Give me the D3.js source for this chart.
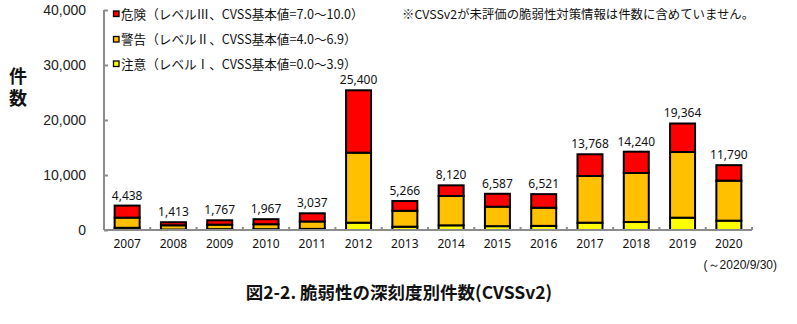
<!DOCTYPE html>
<html><head><meta charset="utf-8">
<script src="https://cdn.jsdelivr.net/npm/d3@7/dist/d3.min.js"></script>
<style>body{margin:0;background:#fff}svg{display:block}</style>
</head><body>
<svg id="c" width="797" height="324"></svg>
<script>
const years = ["2007","2008","2009","2010","2011","2012","2013","2014","2015","2016","2017","2018","2019","2020"];
const low  = [400, 80, 150, 150, 200, 1330, 600, 850, 700, 750, 1330, 1450, 2240, 1700];
const medium = [1850, 780, 820, 900, 1350, 12730, 2900, 5330, 3540, 3300, 8490, 8920, 11940, 7270];
const high = [2188, 553, 797, 917, 1487, 11340, 1766, 1940, 2347, 2471, 3948, 3870, 5184, 2820];
const yTicks = [0, 10000, 20000, 30000, 40000];
const seriesNames = ["low","medium","high"];
const legendLabels = ["危険（レベルⅢ、CVSS基本値=7.0～10.0）","警告（レベルⅡ、CVSS基本値=4.0～6.9）","注意（レベルⅠ、CVSS基本値=0.0～3.9）"];
const legendKeys = ["high","medium","low"];
const colors = {low:"#ffff00", medium:"#ffc000", high:"#ff0000"};

const rows = years.map((y,i)=>({year:y, low:low[i], medium:medium[i], high:high[i]}));
const svg = d3.select("#c");
const x0 = 104, x1 = 752, yTop = 10, yBot = 230;
const x = d3.scaleBand().domain(years).range([x0, x1]).paddingInner(0.46).paddingOuter(0.23);
const y = d3.scaleLinear().domain([0, 40000]).range([yBot, yTop]);
const stack = d3.stack().keys(seriesNames)(rows);

// bars
svg.append("g").selectAll("g").data(stack).join("g")
  .attr("fill", d => colors[d.key])
  .selectAll("rect").data(d => d).join("rect")
  .attr("x", d => x(d.data.year))
  .attr("y", d => y(d[1]))
  .attr("width", x.bandwidth())
  .attr("height", d => y(d[0]) - y(d[1]))
  .attr("stroke", "#000").attr("stroke-width", 2);

// axes
const axisColor = "#8c8c8c";
const yAxis = svg.append("g").attr("transform", `translate(${x0},0)`)
  .call(d3.axisRight(y).tickValues(yTicks).tickSize(4).tickFormat(""));
yAxis.select(".domain").attr("stroke", axisColor).attr("stroke-width", 2).attr("d", `M0,${yTop}V${yBot}`);
yAxis.selectAll(".tick line").attr("stroke", axisColor).attr("stroke-width", 2);

svg.append("g").selectAll("text").data(yTicks).join("text")
  .attr("x", 86).attr("y", d => y(d)).attr("dy", "0.36em")
  .attr("text-anchor", "end")
  .attr("font-family", "Liberation Sans, Arial, sans-serif").attr("font-size", 14).attr("fill", "#222")
  .text(d => d3.format(",")(d));

const xAxisG = svg.append("g");
xAxisG.append("line").attr("x1", x0).attr("x2", x1).attr("y1", yBot).attr("y2", yBot)
  .attr("stroke", axisColor).attr("stroke-width", 2);
xAxisG.selectAll("line.t").data(years).join("line").attr("class","t")
  .attr("x1", d => x(d) + x.bandwidth()/2 + x.step()/2)
  .attr("x2", d => x(d) + x.bandwidth()/2 + x.step()/2)
  .attr("y1", yBot).attr("y2", yBot-3)
  .attr("stroke", axisColor).attr("stroke-width", 2);

svg.append("g").selectAll("text").data(years).join("text")
  .attr("x", d => x(d) + x.bandwidth()/2).attr("y", 248)
  .attr("text-anchor", "middle")
  .attr("font-family", "Noto Sans, sans-serif").attr("font-size", 12).attr("fill", "#111")
  .text(d => d);

// totals
svg.append("g").selectAll("text").data(rows).join("text")
  .attr("x", d => x(d.year) + x.bandwidth()/2)
  .attr("y", d => y(d.low + d.medium + d.high) - 6)
  .attr("text-anchor", "middle")
  .attr("font-family", "Noto Sans, sans-serif").attr("font-size", 12).attr("fill", "#111")
  .text(d => d3.format(",")(d.low + d.medium + d.high));

// legend
const lg = svg.append("g");
const ly = [14, 39.5, 64];
legendKeys.forEach((k,i) => {
  lg.append("rect").attr("x", 113.5).attr("y", ly[i]-3).attr("width", 5.5).attr("height", 5.5)
    .attr("fill", colors[k]).attr("stroke", "#000").attr("stroke-width", 1.3);
  lg.append("text").attr("x", 121).attr("y", ly[i]).attr("dy", "0.36em")
    .attr("font-family", "Noto Sans CJK JP, sans-serif").attr("font-size", 12.6).attr("fill", "#111")
    .text(legendLabels[i]);
});

// notes
svg.append("text").attr("x", 402).attr("y", 15).attr("dy", "0.36em")
  .attr("font-family", "Noto Sans CJK JP, sans-serif").attr("font-size", 12.4).attr("fill", "#111")
  .text("※CVSSv2が未評価の脆弱性対策情報は件数に含めていません。");

svg.append("text").attr("x", 777).attr("y", 265).attr("dy", "0.36em").attr("text-anchor", "end")
  .attr("font-family", "Liberation Sans, Arial, sans-serif").attr("font-size", 12).attr("fill", "#111")
  .text("(～2020/9/30)");

const yl = svg.append("g").attr("font-family", "Noto Sans CJK JP, sans-serif").attr("font-size", 18)
  .attr("font-weight", "bold").attr("fill", "#111").attr("text-anchor", "middle");
yl.append("text").attr("x", 18).attr("y", 77).attr("dy", "0.36em").text("件");
yl.append("text").attr("x", 18).attr("y", 99).attr("dy", "0.36em").text("数");

svg.append("text").attr("x", 399).attr("y", 293).attr("dy", "0.36em").attr("text-anchor", "middle")
  .attr("font-family", "Noto Sans CJK JP, sans-serif").attr("font-size", 17.5).attr("font-weight", "bold").attr("fill", "#111")
  .text("図2-2. 脆弱性の深刻度別件数(CVSSv2)");
</script>
</body></html>
